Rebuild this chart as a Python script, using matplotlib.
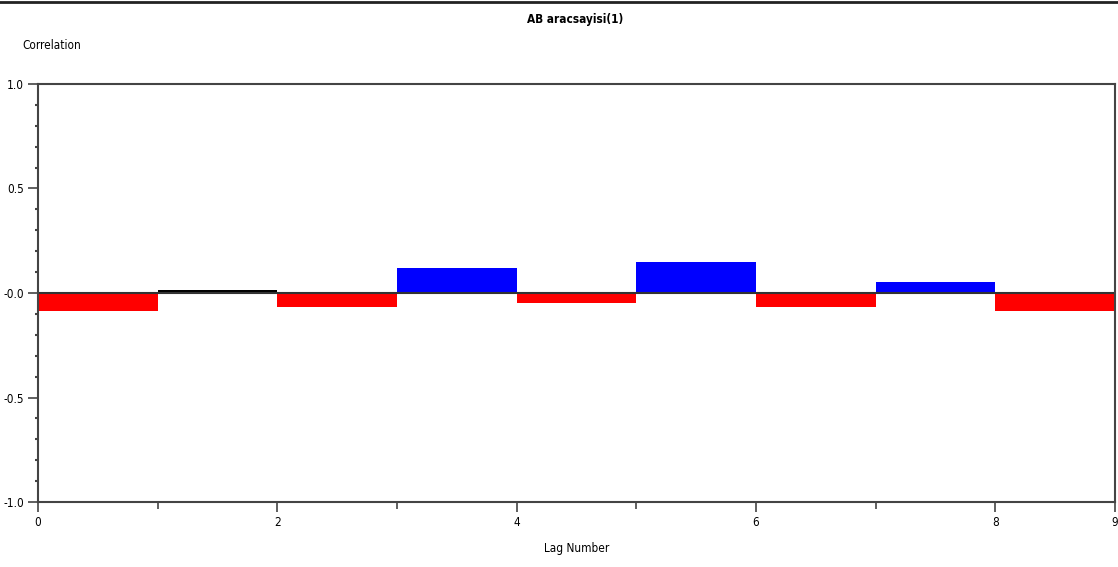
import numpy as np
import matplotlib
matplotlib.use("Agg")
import matplotlib.pyplot as plt
from matplotlib.ticker import MultipleLocator, FixedLocator

plt.rcParams['font.family'] = ['DejaVu Sans']
plt.rcParams['font.stretch'] = 'condensed'

# autocorrelation values per lag
lags = np.arange(9)                     # bar left edges 0..8
acf = [-0.086, 0.015, -0.065, 0.12, -0.05, 0.15, -0.065, 0.054, -0.086]
colors = ['#ff0000', '#000000', '#ff0000', '#0000ff', '#ff0000',
          '#0000ff', '#ff0000', '#0000ff', '#ff0000']

fig = plt.figure(figsize=(11.18, 5.67), dpi=100)
ax = fig.add_axes([0.034, 0.1146, 0.9633, 0.7373])

ax.bar(lags, acf, width=1.0, align='edge', color=colors, linewidth=0)
ax.axhline(0, color='#333333', lw=1.5)

ax.set_xlim(0, 9)
ax.set_ylim(-1, 1)
ax.xaxis.set_major_locator(FixedLocator([0, 2, 4, 6, 8, 9]))
ax.xaxis.set_minor_locator(FixedLocator([1, 3, 5, 7]))
ax.yaxis.set_minor_locator(MultipleLocator(0.1))
ax.set_yticks([1.0, 0.5, 0.0, -0.5, -1.0])
ax.set_yticklabels(['1.0', '0.5', '-0.0', '-0.5', '-1.0'])

for s in ax.spines.values():
    s.set_color('#444444')
    s.set_linewidth(1.5)
ax.tick_params(which='major', length=7, width=1.2, color='#444444', labelsize=8.5, pad=3)
ax.tick_params(axis='x', which='minor', length=5, width=1.2, color='#444444')
ax.tick_params(axis='y', which='minor', length=2.5, width=1.5, color='#444444')

fig.text(0.514, 0.965, 'AB aracsayisi(1)', ha='center', va='center', fontsize=8.5, fontweight='bold')
fig.text(0.020, 0.92, 'Correlation', ha='left', va='center', fontsize=8.5)
fig.text(0.516, 0.033, 'Lag Number', ha='center', va='center', fontsize=8.5)
fig.add_artist(plt.Line2D([0, 1], [0.997, 0.997], color='#222222', lw=2))

fig.savefig('out.png', dpi=100)
